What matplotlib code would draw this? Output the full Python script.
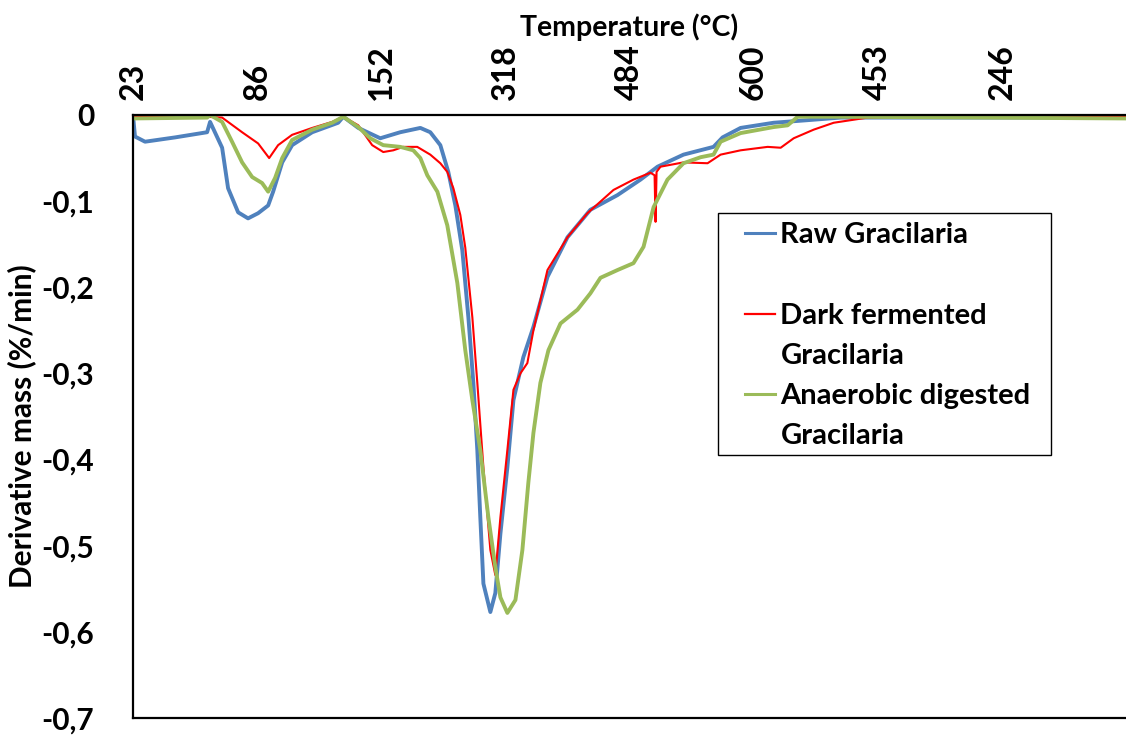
import matplotlib.pyplot as plt
from matplotlib.lines import Line2D
from matplotlib.patches import Rectangle

plt.rcParams["font.family"] = ["Lato", "DejaVu Sans"]
plt.rcParams["font.weight"] = "bold"

# DTG curves: x is the reading number, y is derivative mass in %/min
raw_x = [0, 1.6, 9.7, 33.9, 59.7, 62.1, 71.8, 76.6, 84.7, 92.7, 100.8, 108.9,
         112.9, 120.2, 128.2, 144.4, 165.3, 169.4, 181.5, 199.2, 215.3, 231.5,
         239.5, 247.6, 254.0, 259.7, 265.3, 270.2, 274.2, 277.4, 279.8, 282.3,
         287.9, 291.9, 296.0, 301.6, 306.5, 314.5, 322.6, 333.9, 350.0, 368.5,
         390.3, 408.9, 422.6, 443.5, 467.7, 475.0, 489.5, 516.1, 543.5, 570.2,
         800]
raw_y = [0.0, -0.025, -0.031, -0.026, -0.020, -0.008, -0.038, -0.085, -0.113,
         -0.120, -0.114, -0.105, -0.089, -0.055, -0.035, -0.020, -0.009, -0.002,
         -0.015, -0.027, -0.020, -0.015, -0.020, -0.035, -0.066, -0.105, -0.157,
         -0.235, -0.311, -0.389, -0.467, -0.544, -0.577, -0.555, -0.486, -0.409,
         -0.331, -0.281, -0.246, -0.188, -0.142, -0.110, -0.093, -0.075, -0.060,
         -0.046, -0.037, -0.026, -0.015, -0.009, -0.006, -0.003, -0.003]

dark_x = [0, 58, 71.8, 87.9, 100.8, 109.7, 116.9, 128.2, 144.4, 160.5, 169.4,
          181.5, 192.7, 201.6, 209.7, 217.7, 229.0, 239.5, 247.6, 253.2, 258.1,
          263.7, 267.7, 273.4, 277.4, 282.3, 287.9, 291.9, 296.0, 301.6, 306.5,
          312.1, 317.7, 322.6, 333.9, 350.0, 366.1, 387.1, 403.2, 416.9, 420.2,
          421.0, 421.8, 425.0, 443.5, 462.9, 473.4, 489.5, 511.3, 521.8, 532.3,
          548.4, 564.5, 591.9, 618.5, 800]
dark_y = [-0.001, -0.002, -0.003, -0.020, -0.033, -0.050, -0.035, -0.023,
          -0.015, -0.008, -0.002, -0.012, -0.035, -0.043, -0.041, -0.037,
          -0.037, -0.046, -0.056, -0.066, -0.085, -0.116, -0.154, -0.235,
          -0.311, -0.409, -0.505, -0.534, -0.467, -0.389, -0.319, -0.300,
          -0.288, -0.250, -0.180, -0.142, -0.114, -0.087, -0.075, -0.067,
          -0.070, -0.124, -0.066, -0.060, -0.055, -0.056, -0.046, -0.041,
          -0.037, -0.038, -0.027, -0.017, -0.009, -0.003, -0.002, -0.002]

digested_x = [0, 59.7, 62.1, 71.8, 79.8, 87.9, 96.0, 104.0, 108.9, 114.5, 120.2,
              128.2, 144.4, 160.5, 169.4, 181.5, 191.1, 201.6, 215.3, 225.8,
              231.5, 237.1, 245.2, 253.2, 261.3, 267.7, 273.4, 279.8, 286.3,
              291.9, 296.0, 301.6, 308.1, 313.7, 318.5, 322.6, 328.2, 334.7,
              344.4, 358.1, 368.5, 376.6, 390.3, 403.2, 411.3, 419.4, 430.6,
              443.5, 457.3, 467.7, 473.4, 489.5, 516.1, 527.4, 535.5, 570.2, 800]
digested_y = [-0.004, -0.003, 0.0, -0.008, -0.031, -0.055, -0.072, -0.079,
              -0.089, -0.073, -0.050, -0.029, -0.017, -0.009, -0.002, -0.014,
              -0.027, -0.035, -0.037, -0.041, -0.050, -0.070, -0.089, -0.128,
              -0.195, -0.273, -0.331, -0.389, -0.467, -0.525, -0.560, -0.578,
              -0.563, -0.505, -0.427, -0.369, -0.311, -0.273, -0.242, -0.226,
              -0.207, -0.189, -0.180, -0.172, -0.153, -0.107, -0.075, -0.056,
              -0.049, -0.046, -0.031, -0.021, -0.014, -0.012, -0.002, -0.002,
              -0.004]

# temperature shown every 100 readings (heating to 600, then cooling)
temp_ticks = [0, 100, 200, 300, 400, 500, 600, 700]
temp_labels = ["23", "86", "152", "318", "484", "600", "453", "246"]

y_ticks = [0, -0.1, -0.2, -0.3, -0.4, -0.5, -0.6, -0.7]
y_labels = ["0", "-0,1", "-0,2", "-0,3", "-0,4", "-0,5", "-0,6", "-0,7"]

series_names = [["Raw Gracilaria"], ["Dark fermented", "Gracilaria"],
                ["Anaerobic digested", "Gracilaria"]]
series_colors = ["#4F81BD", "#FF0000", "#9BBB59"]
series_widths = [2.8, 1.5, 2.8]

fig = plt.figure(figsize=(11.26, 7.35), dpi=100)
ax = fig.add_axes([133 / 1126, 1 - 718 / 735, 993 / 1126, 603 / 735])

for xs, ys, c, lw in zip([raw_x, dark_x, digested_x],
                         [raw_y, dark_y, digested_y],
                         series_colors, series_widths):
    ax.plot(xs, ys, color=c, lw=lw, solid_joinstyle="round")

ax.set_xlim(0, 800)
ax.set_ylim(-0.7, 0)

ax.xaxis.tick_top()
ax.xaxis.set_label_position("top")
ax.set_xticks(temp_ticks)
ax.set_xticklabels(temp_labels, rotation=90, fontsize=23)
ax.set_yticks(y_ticks)
ax.set_yticklabels(y_labels, fontsize=21.5)
ax.tick_params(axis="x", length=0, pad=11)
ax.tick_params(axis="y", length=0, pad=28)

ax.set_xlabel("Temperature (°C)", fontsize=20.5, fontweight="bold", labelpad=6)
ax.set_ylabel("Derivative mass (%/min)", fontsize=21.5, fontweight="bold",
              labelpad=4)
ax.yaxis.label.set_y(0.484)

for side in ["left", "top", "bottom"]:
    ax.spines[side].set_linewidth(1.6)
ax.spines["right"].set_visible(False)

# legend box, each handle sits on the first line of its entry
ax.add_patch(Rectangle((0.589, 0.436), 0.335, 0.4015, transform=ax.transAxes,
                       fill=False, edgecolor="black", lw=1.0, zorder=5))
handle_rows = [0.8045, 0.6705, 0.538]
line_gap = 40 / 603
for lines, c, yy in zip(series_names, series_colors, handle_rows):
    ax.add_line(Line2D([0.616, 0.647], [yy, yy], transform=ax.transAxes,
                       color=c, lw=2.2 if c != "#FF0000" else 1.6, zorder=6))
    for i, txt in enumerate(lines):
        base = yy - i * line_gap - 10.5 / 603
        ax.text(0.652, base, txt, transform=ax.transAxes, fontsize=21,
                fontweight="bold", va="baseline", ha="left", zorder=6)

fig.savefig("out.png", dpi=100)
